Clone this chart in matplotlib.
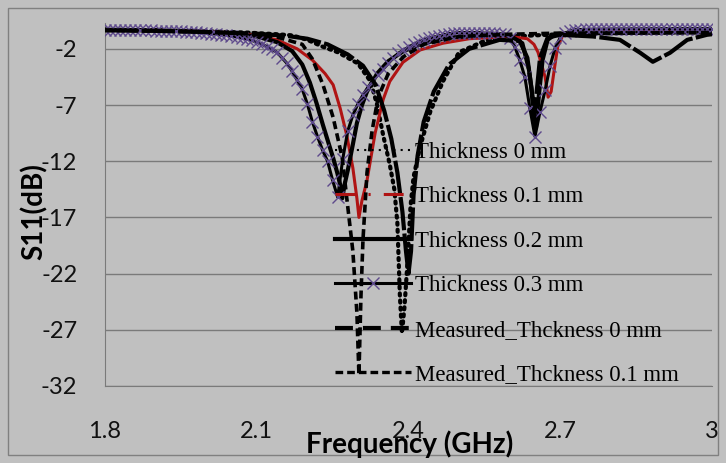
import numpy as np
import matplotlib
matplotlib.use("Agg")
import matplotlib.pyplot as plt
from matplotlib.lines import Line2D
from matplotlib.patches import Rectangle

plt.rcParams["axes.unicode_minus"] = False

# ---------- data ----------
# Thickness 0 mm (dotted)
f_t0 = [1.80, 1.90, 2.00, 2.08, 2.14, 2.17, 2.20, 2.23, 2.26, 2.30, 2.325, 2.338,
        2.350, 2.363, 2.372, 2.378, 2.383, 2.387, 2.392, 2.398, 2.404, 2.410, 2.423,
        2.443, 2.468, 2.50, 2.55, 2.60, 2.70, 2.80, 3.00]
s_t0 = [-0.3, -0.35, -0.45, -0.55, -0.7, -0.8, -1.2, -1.8, -2.3, -3.3, -4.9, -7.0,
        -9.7, -12.3, -14.5, -17.5, -24.0, -27.3, -25.0, -21.0, -16.0, -13.4, -10.7,
        -7.6, -4.9, -2.3, -1.3, -0.9, -0.7, -0.6, -0.5]

# Thickness 0.1 mm (red)
f_t1 = [1.80, 1.90, 2.00, 2.06, 2.10, 2.14, 2.18, 2.21, 2.235, 2.251, 2.265, 2.278,
        2.29, 2.298, 2.302, 2.308, 2.318, 2.334, 2.35, 2.363, 2.389, 2.423, 2.468,
        2.52, 2.60, 2.635, 2.648, 2.656, 2.663, 2.670, 2.676, 2.682, 2.688, 2.695,
        2.705, 2.73, 2.80, 3.00]
s_t1 = [-0.3, -0.35, -0.45, -0.6, -0.8, -1.2, -2.0, -3.0, -4.2, -5.2, -7.3, -9.7,
        -12.6, -15.3, -17.0, -15.5, -13.7, -9.5, -6.5, -4.9, -3.2, -2.1, -1.5,
        -1.1, -0.9, -1.1, -1.6, -2.3, -3.4, -4.5, -6.3, -5.8, -3.9, -1.8,
        -0.8, -0.4, -0.3, -0.3]

# Thickness 0.2 mm (black solid)
f_t2 = [1.80, 1.90, 2.00, 2.06, 2.10, 2.14, 2.17, 2.19, 2.205, 2.218, 2.231, 2.242,
        2.251, 2.259, 2.265, 2.269, 2.274, 2.28, 2.29, 2.298, 2.308, 2.318, 2.338,
        2.36, 2.39, 2.43, 2.48, 2.55, 2.60, 2.625, 2.638, 2.646, 2.652, 2.658,
        2.665, 2.675, 2.69, 2.72, 2.80, 3.00]
s_t2 = [-0.3, -0.35, -0.5, -0.7, -0.9, -1.4, -2.2, -3.4, -5.0, -6.8, -8.8, -10.4,
        -11.7, -13.0, -14.1, -15.3, -14.0, -12.8, -10.5, -8.6, -7.0, -5.8, -4.2,
        -3.1, -2.2, -1.5, -1.0, -0.8, -0.8, -1.5, -3.8, -6.5, -9.0, -6.0,
        -3.0, -1.2, -0.7, -0.6, -0.6, -0.5]

# Thickness 0.3 mm (x markers), sweep 1.80 ... 3.00 GHz in 0.01 GHz steps
f_t3 = np.round(np.arange(1.80, 3.0001, 0.01), 2)
s_t3 = [-0.30, -0.30, -0.31, -0.31, -0.32, -0.32, -0.33, -0.34, -0.35, -0.36,
        -0.37, -0.38, -0.40, -0.41, -0.43, -0.45, -0.47, -0.50, -0.53, -0.56,
        -0.60, -0.64, -0.68, -0.73, -0.79, -0.85, -0.93, -1.02, -1.12, -1.25,
        -1.40, -1.58, -1.80, -2.05, -2.30, -2.80, -3.30, -4.00, -4.80, -5.60,
        -6.90, -8.50, -9.80, -11.0, -12.0, -13.7, -15.2, -11.8, -9.3, -7.9,
        -6.9, -6.1, -5.4, -4.8, -4.3, -3.8, -3.3, -2.8, -2.4, -2.1,
        -1.85, -1.6, -1.4, -1.2, -1.05, -0.95, -0.85, -0.75, -0.65, -0.6,
        -0.55, -0.55, -0.55, -0.55, -0.55, -0.6, -0.6, -0.62, -0.65, -0.7,
        -1.0, -1.8, -3.0, -4.5, -7.3, -9.8, -7.6, -5.7, -3.5, -1.9,
        -1.0, -0.6, -0.4, -0.3, -0.28, -0.27, -0.26, -0.25, -0.25, -0.24,
        -0.24, -0.23, -0.23, -0.23, -0.22, -0.22, -0.22, -0.21, -0.21, -0.21,
        -0.21, -0.20, -0.20, -0.20, -0.20, -0.20, -0.20, -0.20, -0.20, -0.20,
        -0.20]

# Measured_Thckness 0 mm (long dash)
f_m0 = [1.80, 1.90, 2.00, 2.10, 2.16, 2.20, 2.24, 2.28, 2.31, 2.335, 2.352, 2.366,
        2.378, 2.388, 2.395, 2.40, 2.405, 2.41, 2.418, 2.43, 2.45, 2.48, 2.52,
        2.58, 2.62, 2.635, 2.643, 2.648, 2.653, 2.66, 2.675, 2.70, 2.765, 2.818,
        2.858, 2.883, 2.917, 2.951, 2.99, 3.00]
s_m0 = [-0.35, -0.4, -0.5, -0.65, -0.85, -1.1, -1.6, -2.5, -3.5, -5.2, -7.5, -10.0,
        -13.0, -16.5, -20.0, -22.0, -20.0, -15.0, -11.5, -8.5, -5.8, -3.4, -2.0,
        -1.2, -1.3, -2.8, -5.5, -8.3, -6.0, -2.8, -1.0, -0.75, -0.9, -1.2,
        -2.35, -3.15, -2.35, -1.2, -0.75, -0.7]

# Measured_Thckness 0.1 mm (dashed)
f_m1 = [1.80, 1.90, 2.00, 2.08, 2.14, 2.19, 2.21, 2.231, 2.251, 2.269, 2.278, 2.29,
        2.298, 2.302, 2.306, 2.31, 2.318, 2.328, 2.34, 2.36, 2.39, 2.43, 2.50,
        2.60, 2.70, 2.80, 3.00]
s_m1 = [-0.35, -0.4, -0.5, -0.65, -0.95, -1.6, -2.9, -5.2, -8.1, -11.7, -15.3, -20.0,
        -25.5, -31.0, -24.0, -19.0, -13.0, -9.3, -6.3, -4.2, -2.7, -1.6, -0.9,
        -0.7, -0.6, -0.6, -0.55]

labels = ["Thickness 0 mm", "Thickness 0.1 mm", "Thickness 0.2 mm",
          "Thickness 0.3 mm", "Measured_Thckness 0 mm", "Measured_Thckness 0.1 mm"]
yticks = [-32, -27, -22, -17, -12, -7, -2]
xticks = [1.8, 2.1, 2.4, 2.7, 3.0]
xticklabels = ["1.8", "2.1", "2.4", "2.7", "3"]

BG = "#c0c0c0"
GRID = "#7a7a7a"
RED = "#b01414"
PURPLE = "#5e4a8c"

fig = plt.figure(figsize=(7.26, 4.63), dpi=100, facecolor=BG)
ax = fig.add_axes([105/726, 1-386/463, (712-105)/726, (386-23)/463], facecolor=BG)

l0, = ax.plot(f_t0, s_t0, color="black", lw=3, ls=(0, (0.5, 1.2)),
              dash_capstyle="round", label=labels[0], zorder=3)
l1, = ax.plot(f_t1, s_t1, color=RED, lw=2.2, label=labels[1], zorder=3)
l2, = ax.plot(f_t2, s_t2, color="black", lw=3, label=labels[2], zorder=3)
l3, = ax.plot(f_t3, s_t3, color="black", lw=2.2, marker="x", ms=9, mew=1.0,
              mec=PURPLE, label=labels[3], zorder=3)
l4, = ax.plot(f_m0, s_m0, color="black", lw=3, ls=(0, (8, 0.8)), label=labels[4], zorder=3)
l5, = ax.plot(f_m1, s_m1, color="black", lw=2.6, ls=(0, (2.2, 1.2)), label=labels[5], zorder=3)

ax.set_xlim(1.8, 3.0)
ax.set_ylim(-32, 0.3)
ax.set_yticks(yticks)
ax.set_xticks(xticks, xticklabels)
ax.grid(axis="y", color=GRID, lw=1)
ax.set_axisbelow(True)
for s in ["top", "right"]:
    ax.spines[s].set_visible(False)
ax.spines["left"].set_color(GRID)
ax.spines["bottom"].set_color(GRID)
ax.tick_params(axis="both", length=0, labelsize=17, colors="#111111")
ax.tick_params(axis="y", pad=20)
ax.tick_params(axis="x", pad=25)
for t in ax.get_xticklabels() + ax.get_yticklabels():
    t.set_family("Lato")

fig.text(410/726, 1-444/463, "Frequency (GHz)", ha="center", va="center",
         fontsize=20, fontweight="bold", family="Lato")
fig.text(34/726, 1-212/463, "S11(dB)", ha="center", va="center", rotation=90,
         fontsize=20, fontweight="bold", family="Lato")

# legend: handles drawn as in the original legend
red_proxy = Line2D([], [], color=RED, lw=2.2, ls=(0, (6.5, 4.3, 0.7, 4.3)))
t0_proxy = Line2D([], [], color="black", lw=1.5, ls=(0, (1, 2.5)))
t3_proxy = Line2D([], [], color="black", lw=2.2, marker="x", ms=9, mew=1.0, mec=PURPLE)
m0_proxy = Line2D([], [], color="black", lw=3, ls=(0, (4.3, 2.4)))
m1_proxy = Line2D([], [], color="black", lw=2.4, ls=(0, (2.3, 1.2)))
leg = ax.legend([t0_proxy, red_proxy, l2, t3_proxy, m0_proxy, m1_proxy], labels,
                loc="upper left", bbox_to_anchor=(335/726, 1-142/463),
                bbox_transform=fig.transFigure, frameon=False, numpoints=1,
                handlelength=3.3, handletextpad=0.2, labelspacing=1.02,
                borderpad=0, borderaxespad=0,
                prop={"family": "Liberation Serif", "size": 16.5})
leg.set_zorder(5)

fig.patches.append(Rectangle((8/726, 8/463), 710/726, 447/463, transform=fig.transFigure,
                             fill=False, ec="#808080", lw=1))

fig.savefig("out.png", dpi=100, facecolor=BG)
